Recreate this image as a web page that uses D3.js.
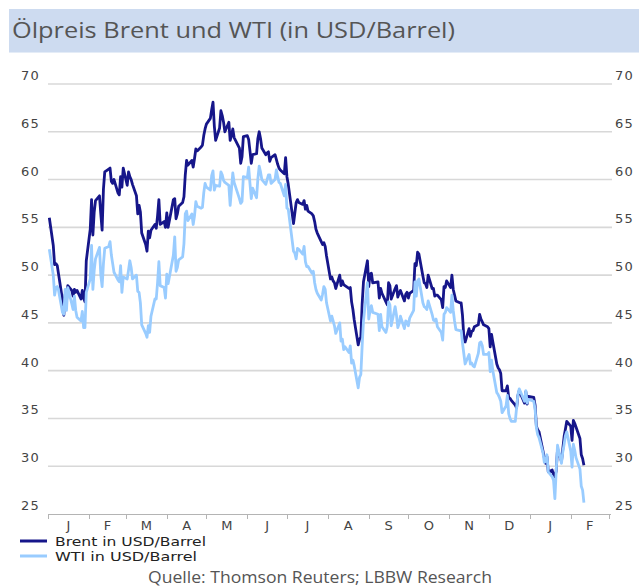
<!DOCTYPE html>
<html><head><meta charset="utf-8">
<script src="https://cdn.jsdelivr.net/npm/d3@7"></script>
<style>html,body{margin:0;padding:0;background:#fff;}svg{display:block;}</style>
</head><body>
<script>
const title = "Ölpreis Brent und WTI (in USD/Barrel)";
const source = "Quelle: Thomson Reuters; LBBW Research";
const seriesNames = ["Brent in USD/Barrel", "WTI in USD/Barrel"];
const monthLabels = ["J","F","M","A","M","J","J","A","S","O","N","D","J","F"];
const yTicks = [25,30,35,40,45,50,55,60,65,70];

const dates = [
"150102","150105","150106","150107","150108","150109","150112","150113","150114","150115","150116","150119","150120","150121","150122","150123","150126","150127","150128","150129","150130",
"150202","150203","150204","150205","150206","150209","150210","150211","150212","150213","150216","150217","150218","150219","150220","150223","150224","150225","150226","150227",
"150302","150303","150304","150305","150306","150309","150310","150311","150312","150313","150316","150317","150318","150319","150320","150323","150324","150325","150326","150327","150330","150331",
"150401","150402","150406","150407","150408","150409","150410","150413","150414","150415","150416","150417","150420","150421","150422","150423","150424","150427","150428","150429","150430",
"150501","150504","150505","150506","150507","150508","150511","150512","150513","150514","150515","150518","150519","150520","150521","150522","150526","150527","150528","150529",
"150601","150602","150603","150604","150605","150608","150609","150610","150611","150612","150615","150616","150617","150618","150619","150622","150623","150624","150625","150626","150629","150630",
"150701","150702","150706","150707","150708","150709","150710","150713","150714","150715","150716","150717","150720","150721","150722","150723","150724","150727","150728","150729","150730","150731",
"150803","150804","150805","150806","150807","150810","150811","150812","150813","150814","150817","150818","150819","150820","150821","150824","150825","150826","150827","150828","150831",
"150901","150902","150903","150904","150908","150909","150910","150911","150914","150915","150916","150917","150918","150921","150922","150923","150924","150925","150928","150929","150930",
"151001","151002","151005","151006","151007","151008","151009","151012","151013","151014","151015","151016","151019","151020","151021","151022","151023","151026","151027","151028","151029","151030",
"151102","151103","151104","151105","151106","151109","151110","151111","151112","151113","151116","151117","151118","151119","151120","151123","151124","151125","151126","151127","151130",
"151201","151202","151203","151204","151207","151208","151209","151210","151211","151214","151215","151216","151217","151218","151221","151222","151223","151224","151228","151229","151230","151231",
"160104","160105","160106","160107","160108","160111","160112","160113","160114","160115","160118","160119","160120","160121","160122","160125","160126","160127","160128","160129",
"160201","160202","160203","160204","160205","160208","160209","160210","160211"
];

const brent = [
56.0,53.1,51.1,51.2,51.0,50.1,47.4,45.8,48.0,47.2,48.9,48.4,47.8,48.5,48.2,48.4,47.5,48.4,47.6,47.2,51.5,
54.8,57.9,54.2,56.6,57.8,58.3,56.4,54.7,59.0,60.8,61.1,61.2,59.8,59.6,60.0,58.6,58.4,60.3,59.2,61.2,
59.4,60.8,60.3,60.0,59.5,58.3,56.4,57.3,56.6,54.4,53.2,52.5,54.6,53.9,54.7,55.3,54.9,56.2,57.9,55.3,55.6,55.0,
56.5,55.0,57.9,58.0,55.9,56.4,57.2,57.6,58.2,60.5,62.0,61.5,62.0,61.3,62.2,63.2,63.0,63.4,63.6,64.6,65.3,
65.8,66.4,67.3,68.1,65.6,64.1,65.4,67.2,66.7,66.0,65.0,66.0,64.1,64.6,65.3,64.4,63.3,61.7,62.4,64.5,
64.6,64.2,63.0,61.7,62.6,62.7,64.3,65.0,64.3,63.3,62.6,62.8,62.9,61.9,62.3,62.6,62.1,61.6,61.2,61.0,60.6,62.3,
60.3,59.5,55.4,56.5,57.6,57.9,57.6,57.4,57.8,56.9,57.3,56.7,56.4,56.2,55.6,54.8,54.4,53.5,53.2,53.4,53.0,52.0,
49.6,49.8,49.4,49.2,48.6,50.0,48.9,49.4,49.0,48.9,48.6,48.7,47.2,46.4,45.3,42.7,43.3,43.5,47.0,49.3,51.5,
48.8,50.1,50.2,49.2,49.3,47.6,48.6,48.1,47.2,46.9,49.2,48.9,47.5,48.6,48.9,47.7,48.1,48.4,47.3,48.0,48.2,
47.6,48.1,48.4,51.2,51.0,52.4,52.2,49.9,49.2,49.1,48.7,50.0,48.6,48.6,47.8,47.9,47.9,47.4,46.6,48.8,48.7,49.4,
48.7,50.0,48.5,47.9,47.3,47.1,47.1,45.8,43.6,43.0,44.4,43.6,44.1,44.2,44.6,44.8,45.9,45.4,45.1,44.8,44.6,
44.4,42.5,43.8,43.0,40.7,40.3,40.1,39.7,37.9,37.9,38.4,37.2,37.1,36.9,36.4,36.1,37.4,37.9,36.6,37.8,36.5,37.3,
37.2,36.4,34.2,33.8,33.6,31.6,30.9,30.3,31.0,29.4,29.6,29.1,28.9,29.5,31.8,30.5,31.8,33.1,33.9,34.7,
34.2,32.7,34.8,34.5,34.1,32.9,31.2,30.8,30.1
];

const wti = [
52.7,50.0,47.9,48.7,48.8,48.4,46.1,45.9,48.5,46.3,48.7,47.0,46.4,47.8,46.3,45.6,45.2,46.2,44.5,44.5,48.2,
49.6,53.1,48.5,50.5,51.7,52.9,50.0,48.8,51.2,52.8,53.0,53.5,52.1,51.2,50.3,49.5,49.3,51.0,48.2,49.8,
49.6,50.5,51.5,50.8,49.6,50.0,48.3,48.2,47.1,44.8,43.9,43.5,44.7,44.0,45.7,47.5,47.5,49.2,51.4,48.9,48.7,47.6,
50.1,49.1,52.1,54.0,50.4,50.8,51.6,51.9,53.3,56.4,56.7,55.7,56.4,55.3,56.2,57.7,57.2,57.0,57.1,58.6,59.6,
59.2,58.9,60.4,60.9,58.9,59.4,59.3,60.8,60.5,59.9,59.7,59.4,57.3,59.0,60.7,59.7,58.0,57.5,57.7,60.3,
60.2,61.3,59.6,58.0,59.1,58.1,60.1,61.4,60.8,60.0,59.5,60.0,60.5,60.5,59.6,60.0,61.0,60.3,59.7,59.6,58.3,59.5,
57.0,56.9,52.5,52.3,51.7,52.8,52.7,52.2,53.0,51.4,50.9,50.9,50.2,50.4,49.2,48.5,48.1,47.4,48.0,48.8,48.5,47.1,
45.2,45.7,45.2,44.7,43.9,45.0,43.1,43.3,42.2,42.5,41.9,42.6,40.8,41.1,40.5,38.2,39.3,39.6,42.6,45.2,49.2,
45.4,46.3,46.8,46.1,45.9,44.2,45.9,44.6,44.0,44.6,47.2,46.9,44.7,46.7,45.8,44.5,44.9,45.7,44.4,45.2,45.1,
44.7,45.5,46.3,49.3,47.8,49.4,49.6,47.1,46.7,46.6,46.4,47.3,45.9,45.3,45.2,45.4,44.6,44.0,43.2,45.9,46.1,46.6,
46.1,47.9,46.3,45.2,44.3,44.2,44.2,42.9,41.8,40.7,41.7,40.7,40.8,40.5,40.4,41.8,42.9,43.0,42.6,41.7,41.7,
41.9,39.9,41.1,40.0,37.7,37.5,37.2,36.8,35.6,36.3,37.4,35.5,35.0,34.7,34.7,36.1,37.5,38.1,36.8,37.9,36.6,37.0,
36.8,36.0,34.0,33.3,33.0,31.4,30.4,30.5,31.2,29.4,28.9,28.5,26.6,29.5,32.2,30.3,31.5,32.3,33.2,33.6,
31.6,29.9,32.3,31.7,30.9,29.7,27.9,27.5,26.2
];

const W = 639, H = 588;
const parse = d3.timeParse("%y%m%d");
const rows = dates.map((d,i) => ({date: parse(d), brent: brent[i], wti: wti[i]}));

const svg = d3.select("body").append("svg").attr("width", W).attr("height", H);

// title bar
svg.append("rect").attr("x", 9).attr("y", 9).attr("width", W-9).attr("height", 43).attr("fill", "#cddbf0");
svg.append("line").attr("x1", 9).attr("x2", W).attr("y1", 52.5).attr("y2", 52.5).attr("stroke", "#e4ecf7").attr("stroke-width", 1);
svg.append("text").attr("x", 12).attr("y", 38).text(title)
  .attr("font-family", "'Open Sans', 'DejaVu Sans', sans-serif").attr("font-size", 22)
  .attr("fill", "#555").attr("textLength", 443).attr("lengthAdjust", "spacingAndGlyphs");

const x = d3.scaleTime().domain([new Date(2015,0,1), new Date(2016,2,1)]).range([48, 609]);
const y = d3.scaleLinear().domain([25, 70]).range([514, 84]);

// gridlines
svg.append("g").selectAll("line").data(yTicks.slice(1)).join("line")
  .attr("x1", 48).attr("x2", 612)
  .attr("y1", d => y(d)).attr("y2", d => y(d))
  .attr("stroke", "#d8d8d8").attr("stroke-width", 1.6);

const tickFont = "'DejaVu Sans', Verdana, sans-serif";
// left labels
svg.append("g").selectAll("text").data(yTicks).join("text")
  .attr("x", 40).attr("y", d => y(d) - 4).attr("text-anchor", "end")
  .attr("font-family", tickFont).attr("font-size", 13).attr("letter-spacing", 1.2)
  .attr("fill", "#444").text(d => d);
// right labels
svg.append("g").selectAll("text").data(yTicks).join("text")
  .attr("x", 615).attr("y", d => y(d) - 4).attr("text-anchor", "start")
  .attr("font-family", tickFont).attr("font-size", 13).attr("letter-spacing", 1.2)
  .attr("fill", "#444").text(d => d);

// bottom axis
const months = x.ticks(d3.timeMonth.every(1));
svg.append("line").attr("x1", 48).attr("x2", 611).attr("y1", 514.5).attr("y2", 514.5)
  .attr("stroke", "#b4b4b4").attr("stroke-width", 1);
svg.append("g").selectAll("line").data(months).join("line")
  .attr("x1", d => Math.round(x(d)) + 0.5).attr("x2", d => Math.round(x(d)) + 0.5)
  .attr("y1", 514).attr("y2", 519).attr("stroke", "#b4b4b4");
svg.append("g").selectAll("text").data(months.slice(0, monthLabels.length)).join("text")
  .attr("x", (d,i) => (x(d) + x(d3.timeMonth.offset(d,1))) / 2)
  .attr("y", 530).attr("text-anchor", "middle")
  .attr("font-family", tickFont).attr("font-size", 13)
  .attr("fill", "#444").text((d,i) => monthLabels[i]);

// lines
const lineB = d3.line().x(d => x(d.date)).y(d => y(d.brent));
const lineW = d3.line().x(d => x(d.date)).y(d => y(d.wti));
svg.append("path").datum(rows).attr("d", lineB).attr("fill", "none")
  .attr("stroke", "#16168a").attr("stroke-width", 2.8).attr("stroke-linejoin", "round");
svg.append("path").datum(rows).attr("d", lineW).attr("fill", "none")
  .attr("stroke", "#99ccff").attr("stroke-width", 2.8).attr("stroke-linejoin", "round");

// legend
const legendFont = "'DejaVu Sans', Verdana, sans-serif";
const legend = [{name: seriesNames[0], color: "#16168a", yy: 541, w: 151}, {name: seriesNames[1], color: "#99ccff", yy: 556, w: 142}];
legend.forEach(l => {
  svg.append("line").attr("x1", 20).attr("x2", 47).attr("y1", l.yy).attr("y2", l.yy)
    .attr("stroke", l.color).attr("stroke-width", 3);
  svg.append("text").attr("x", 55).attr("y", l.yy + 4.5).text(l.name)
    .attr("font-family", legendFont).attr("font-size", 12.5).attr("fill", "#222")
    .attr("textLength", l.w).attr("lengthAdjust", "spacingAndGlyphs");
});

svg.append("text").attr("x", 320).attr("y", 583).attr("text-anchor", "middle").text(source)
  .attr("font-family", "'Open Sans', 'DejaVu Sans', sans-serif").attr("font-size", 16)
  .attr("fill", "#555").attr("textLength", 344).attr("lengthAdjust", "spacingAndGlyphs");
</script>
</body></html>
